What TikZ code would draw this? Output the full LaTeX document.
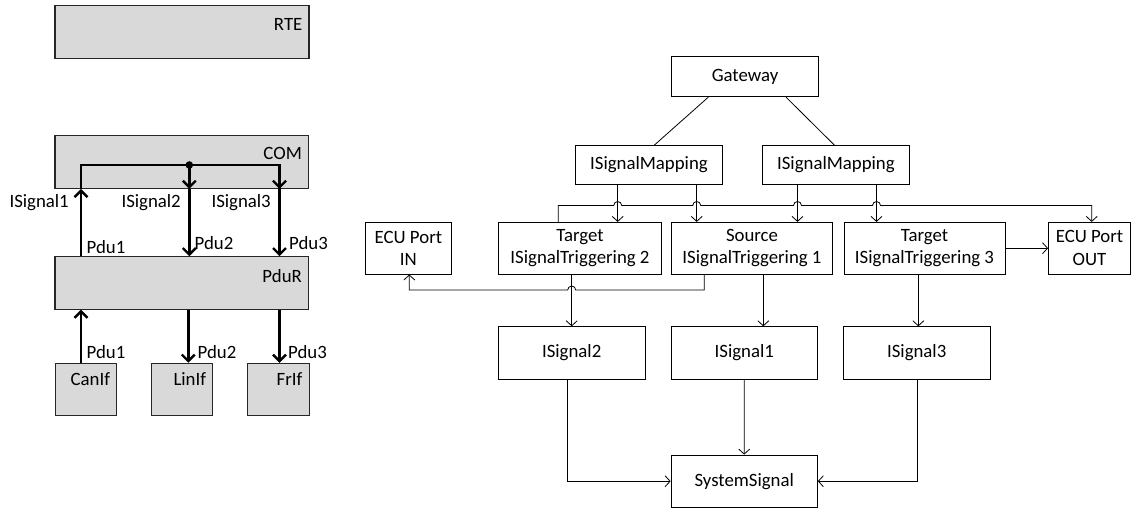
\documentclass[tikz,border=0pt]{standalone}
\usepackage{fontspec}
\setmainfont{Carlito}
\usetikzlibrary{arrows.meta,calc}
\definecolor{boxgray}{HTML}{D9D9D9}
\begin{document}
\begin{tikzpicture}[x=1pt,y=-1pt,
  every node/.style={font=\fontsize{18.8}{22.5}\selectfont},
  box/.style={draw=black,line width=0.9pt,rectangle,inner sep=0pt,align=center},
  gbox/.style={draw=black!85,line width=1.1pt,fill=boxgray,rectangle,inner sep=0pt},
  lbl/.style={inner sep=0pt},
  ln/.style={draw=black,line width=0.8pt},
  arr/.style={ln,-{Straight Barb[length=5pt,width=11pt]}},
  thk/.style={draw=black,line width=2.4pt},
  tarr/.style={thk,-{Straight Barb[length=6.5pt,width=13pt]}}
]
\useasboundingbox (0,0) rectangle (1131,509);

% ---------------- left stack ----------------
\node[gbox,minimum width=254pt,minimum height=52.6pt] (rte) at (182,32) {};
\node[gbox,minimum width=253.5pt,minimum height=53.3pt] (com) at (181.75,161.7) {};
\node[gbox,minimum width=253.5pt,minimum height=52.3pt] (pdur) at (181.75,282.9) {};
\node[gbox,minimum width=61.7pt,minimum height=52.4pt] (canif) at (85.9,389.5) {};
\node[gbox,minimum width=61.7pt,minimum height=52.4pt] (linif) at (181.9,389.5) {};
\node[gbox,minimum width=61.7pt,minimum height=52.4pt] (frif) at (278.2,389.5) {};

\node[lbl,anchor=east] (trte) at ([xshift=-7pt,yshift=-19.5pt]rte.north east) {RTE};
\node[lbl,anchor=east] (tcom) at ([xshift=-7pt,yshift=-19pt]com.north east) {COM};
\node[lbl,anchor=east] (tpdur) at ([xshift=-7pt,yshift=-20pt]pdur.north east) {PduR};
\node[lbl,anchor=east] (tcan) at ([xshift=-7pt,yshift=-16.7pt]canif.north east) {CanIf};
\node[lbl,anchor=east] (tlin) at ([xshift=-7pt,yshift=-16.7pt]linif.north east) {LinIf};
\node[lbl,anchor=east] (tfr) at ([xshift=-7pt,yshift=-16.7pt]frif.north east) {FrIf};

\coordinate (xA) at (81,0);
\coordinate (xB) at (189.3,0);
\coordinate (xC) at (279.5,0);
\coordinate (ybus) at (0,165);
\coordinate (dot) at (xB |- ybus);

% upper connections COM <-> PduR
\draw[tarr] (pdur.north -| xA) -- (com.south -| xA);
\draw[thk,line join=miter] (com.south -| xA) -- (xA |- ybus) -- (xC |- ybus) -- ([yshift=-3pt]com.south -| xC);
\draw[tarr] (xC |- ybus) -- (com.south -| xC);
\draw[tarr] (com.south -| xC) -- (pdur.north -| xC);
\draw[tarr] (dot) -- (com.south -| xB);
\draw[tarr] (com.south -| xB) -- (pdur.north -| xB);
\fill (dot) circle[radius=3.8pt];

\node[lbl,anchor=east] (is1) at (69,202.7) {ISignal1};
\node[lbl,anchor=east] (is2) at (181,202.7) {ISignal2};
\node[lbl,anchor=east] (is3) at (271,202.7) {ISignal3};
\node[lbl,anchor=west] (pu1) at (86.5,246.7) {Pdu1};
\node[lbl,anchor=west] (pu2) at (194.5,243) {Pdu2};
\node[lbl,anchor=west] (pu3) at (289,243) {Pdu3};

% lower connections PduR <-> interfaces
\draw[tarr] (canif.north -| xA) -- (pdur.south -| xA);
\draw[tarr] (pdur.south -| 188.3,0) -- (linif.north -| 188.3,0);
\draw[tarr] (pdur.south -| xC) -- (frif.north -| xC);
\node[lbl,anchor=west] (pl1) at (86.5,351.7) {Pdu1};
\node[lbl,anchor=west] (pl2) at (197.5,351.7) {Pdu2};
\node[lbl,anchor=west] (pl3) at (288,351.7) {Pdu3};

% ---------------- right diagram ----------------
\node[box,minimum width=146.6pt,minimum height=40pt] (gw) at (745,76.7) {Gateway};
\node[box,minimum width=146.6pt,minimum height=38.8pt] (map1) at (649,165) {ISignalMapping};
\node[box,minimum width=146.3pt,minimum height=38.8pt] (map2) at (835.9,165) {ISignalMapping};
\node[box,minimum width=85.3pt,minimum height=51.7pt] (ecuin) at (408.4,248.2) {ECU Port\\IN};
\node[box,minimum width=163.4pt,minimum height=51.7pt] (t2) at (580,248.2) {Target\\ISignalTriggering 2};
\node[box,minimum width=160.6pt,minimum height=51.7pt] (src) at (752,248.2) {Source\\ISignalTriggering 1};
\node[box,minimum width=161pt,minimum height=51.7pt] (t3) at (924.5,248.2) {Target\\ISignalTriggering 3};
\node[box,minimum width=82pt,minimum height=51.7pt] (ecuout) at (1089.5,248.2) {ECU Port\\OUT};
\node[box,minimum width=146.7pt,minimum height=52.3pt] (sig2) at (571.7,352.9) {ISignal2};
\node[box,minimum width=146.7pt,minimum height=52.3pt] (sig1) at (744.3,352.9) {ISignal1};
\node[box,minimum width=146.7pt,minimum height=52.3pt] (sig3) at (916.7,352.9) {ISignal3};
\node[box,minimum width=146.3pt,minimum height=52.3pt] (sys) at (744.2,481.2) {SystemSignal};

% gateway to mappings
\draw[ln] ([xshift=-36.7pt]gw.south) -- ([xshift=5.3pt]map1.north);
\draw[ln] ([xshift=41pt]gw.south) -- ([xshift=-1.5pt]map2.north);

% mapping columns
\coordinate (m1a) at (617.7,0);
\coordinate (m1b) at (696.7,0);
\coordinate (m2a) at (797.5,0);
\coordinate (m2b) at (876.5,0);
\coordinate (yb) at (0,205.5);
\coordinate (xb0) at (558.3,0);
\coordinate (xbe) at (1091.7,0);
\draw[arr] (map1.south -| m1a) -- (t2.north -| m1a);
\draw[arr] (map1.south -| m1b) -- (src.north -| m1b);
\draw[arr] (map2.south -| m2a) -- (src.north -| m2a);
\draw[arr] (map2.south -| m2b) -- (t3.north -| m2b);

% bus from Target 2 to ECU Port OUT with hops
\draw[arr] (t2.north -| xb0) -- (xb0 |- yb)
  -- ($(m1a |- yb)+(-4pt,0)$) arc[start angle=180,end angle=0,radius=4pt]
  -- ($(m1b |- yb)+(-4pt,0)$) arc[start angle=180,end angle=0,radius=4pt]
  -- ($(m2a |- yb)+(-4pt,0)$) arc[start angle=180,end angle=0,radius=4pt]
  -- ($(m2b |- yb)+(-4pt,0)$) arc[start angle=180,end angle=0,radius=4pt]
  -- (xbe |- yb) -- (ecuout.north -| xbe);

% Target 3 to ECU Port OUT
\draw[arr] (t3.east) -- (ecuout.west);

% Source to ECU Port IN with hop
\coordinate (yl) at (0,290);
\coordinate (xs) at (704.3,0);
\coordinate (xin) at (409.3,0);
\draw[arr] (src.south -| xs) -- (xs |- yl)
  -- ($(sig2.north |- yl)+(4pt,0)$) arc[start angle=0,end angle=180,radius=4pt]
  -- (xin |- yl) -- (ecuin.south -| xin);

% triggerings to signals
\draw[arr] (sig2.north |- t2.south) -- (sig2.north);
\draw[arr] ([xshift=19pt]sig1.north |- src.south) -- ([xshift=19pt]sig1.north);
\draw[arr] ([xshift=1.6pt]sig3.north |- t3.south) -- ([xshift=1.6pt]sig3.north);

% signals to system signal
\draw[arr] ([xshift=-4.4pt]sig2.south) |- (sys.west);
\draw[arr] (sig1.south) -- (sys.north);
\draw[arr] ([xshift=1pt]sig3.south) |- (sys.east);
\end{tikzpicture}
\end{document}
